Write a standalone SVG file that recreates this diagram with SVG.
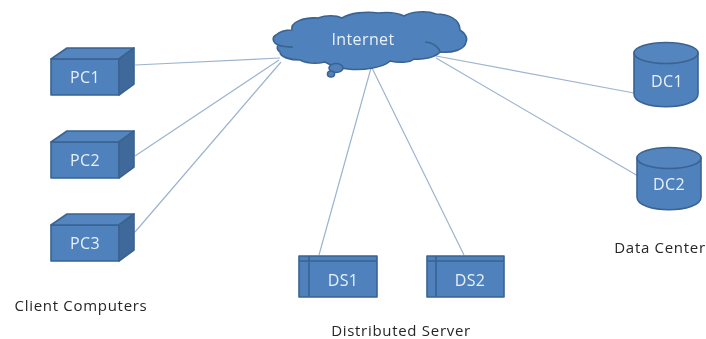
<svg xmlns="http://www.w3.org/2000/svg" width="706" height="339" viewBox="0 0 706 339">
<style>
.s{fill:#4f81bd;stroke:#3a6391;stroke-width:1.6;stroke-linejoin:round}
.d{fill:#41699b;stroke:#3a6391;stroke-width:1.6;stroke-linejoin:round}
.t{fill:#5585bf;stroke:#3a6391;stroke-width:1.6;stroke-linejoin:round}
.n{fill:none;stroke:#3a6391;stroke-width:1.6}
.w{font-family:"Open Sans","Liberation Sans",sans-serif;font-size:16px;letter-spacing:.4px;fill:#e8f0f8;text-anchor:middle}
.k{font-family:"Open Sans","Liberation Sans",sans-serif;font-size:15px;letter-spacing:.7px;fill:#262626;text-anchor:middle}
.c{stroke:#9db4cf;stroke-width:1.2;fill:none}
</style>
<defs><filter id="soft" x="-2%" y="-2%" width="104%" height="104%"><feGaussianBlur stdDeviation="0.4"/></filter></defs>
<rect width="706" height="339" fill="#fff"/>
<g filter="url(#soft)">
<g id="connectors">
<path class="c" d="M135 65L280 58M135 156L279 60M135 232L281 62M319 255L371 68M464 255L372 68M436 56L634 93M436 58L638 176"/>
</g>
<g id="internet">
<path class="s" d="M292 30C290 22 304 17 318 18C326 15 336 15 342 18C350 13 366 11 378 13C388 12 398 13 404 16C410 12 426 10 436 14C448 14 460 19 460 30C465 33 468 38 466 42C465 50 452 53 440 52C436 57 424 60 414 59C410 63 398 63 390 61C384 67 364 71 348 69C338 68 330 65 325 62C316 64 306 63 300 60C290 60 280 57 280 52C277 50 277 47 278 45C272 42 272 37 276 35C279 32 286 30 292 30Z"/>
<path class="n" d="M278 45C284 47 289 47 293 47M425 42C432 42 439 47 440 52"/>
<ellipse class="s" cx="336" cy="68" rx="7" ry="4.500"/>
<ellipse class="s" cx="331" cy="74" rx="3.500" ry="3"/>
<text class="w" x="363" y="45">Internet</text>
</g>
<g id="pc1">
<path class="s" d="M51 59H119V95H51Z"/><path class="t" d="M51 59L67 48H134L119 59Z"/><path class="d" d="M119 59L134 48V84L119 95Z"/>
<text class="w" x="85" y="83">PC1</text>
</g>
<g id="pc2">
<path class="s" d="M51 142H119V178H51Z"/><path class="t" d="M51 142L67 131H134L119 142Z"/><path class="d" d="M119 142L134 131V167L119 178Z"/>
<text class="w" x="85" y="166">PC2</text>
</g>
<g id="pc3">
<path class="s" d="M51 225H119V261H51Z"/><path class="t" d="M51 225L67 214H134L119 225Z"/><path class="d" d="M119 225L134 214V250L119 261Z"/>
<text class="w" x="85" y="249">PC3</text>
</g>
<g id="ds1">
<rect class="s" x="299" y="256" width="78" height="41"/>
<path class="n" d="M299 261H377M309 256V297"/>
<text class="w" x="343" y="286">DS1</text>
</g>
<g id="ds2">
<rect class="s" x="427" y="256" width="77" height="41"/>
<path class="n" d="M427 261H504M436 256V297"/>
<text class="w" x="470" y="286">DS2</text>
</g>
<g id="dc1">
<path class="s" d="M634 53V94C634 111 698 111 698 94V53Z"/>
<ellipse class="t" cx="666" cy="53" rx="32" ry="10.500"/>
<text class="w" x="667" y="87">DC1</text>
</g>
<g id="dc2">
<path class="s" d="M637 158V197C637 214 701 214 701 197V158Z"/>
<ellipse class="t" cx="669" cy="158" rx="32" ry="10.500"/>
<text class="w" x="669" y="190">DC2</text>
</g>
<text class="k" x="660" y="253">Data Center</text>
<text class="k" x="81" y="311">Client Computers</text>
<text class="k" x="401" y="336">Distributed Server</text>
</g>
</svg>
